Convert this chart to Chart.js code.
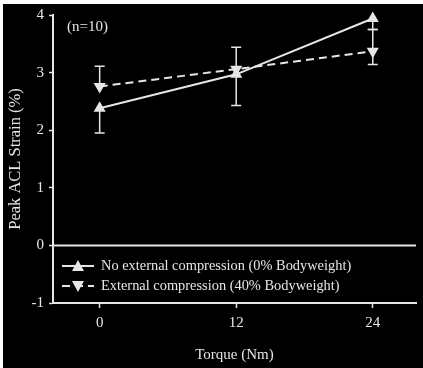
<!DOCTYPE html>
<html>
<head>
<meta charset="utf-8">
<script src="https://cdn.jsdelivr.net/npm/chart.js@4.4.1/dist/chart.umd.min.js"></script>
<style>
  html, body { margin: 0; padding: 0; background: #000; }
  #wrap { width: 423px; height: 368px; position: relative; }
</style>
</head>
<body>
<div id="wrap"><canvas id="chart" width="423" height="368"></canvas></div>
<script>
// torque levels (Nm)
const torques = [0, 12, 24];
// mean peak ACL strain (%)
const noCompression = [2.38, 2.97, 3.94];
const withCompression = [2.76, 3.06, 3.37];
// error bar ends (null = not drawn)
const noCompLow = [1.95, 2.43, 3.75];
const noCompHigh = [null, null, null];
const compLow = [null, null, 3.14];
const compHigh = [3.11, 3.44, 3.75];
const yTicks = [-1, 0, 1, 2, 3, 4];

const ink = '#e6e6e6';
const serif = "'Liberation Serif', 'Times New Roman', serif";

const toPoints = vals => vals.map((v, i) => ({ x: torques[i], y: v }));

// black page + white strip along top and left edges
const backdrop = {
    id: 'backdrop',
    beforeDraw(chart) {
        const ctx = chart.ctx;
        ctx.save();
        ctx.fillStyle = '#000';
        ctx.fillRect(0, 0, chart.width, chart.height);
        ctx.fillStyle = '#fff';
        ctx.fillRect(0, 0, chart.width, 4);
        ctx.fillRect(0, 0, 3, chart.height);
        ctx.restore();
    }
};

// zero reference line
const zeroLine = {
    id: 'zeroLine',
    beforeDatasetsDraw(chart) {
        const { ctx, chartArea, scales } = chart;
        const y = scales.y.getPixelForValue(0);
        ctx.save();
        ctx.strokeStyle = ink;
        ctx.lineWidth = 2;
        ctx.beginPath();
        ctx.moveTo(chartArea.left, y);
        ctx.lineTo(chartArea.right, y);
        ctx.stroke();
        ctx.restore();
    }
};

// vertical error bars with caps
const errorBars = {
    id: 'errorBars',
    beforeDatasetsDraw(chart) {
        const { ctx, scales } = chart;
        const sets = [[noCompression, noCompLow, noCompHigh], [withCompression, compLow, compHigh]];
        ctx.save();
        ctx.strokeStyle = ink;
        ctx.lineWidth = 1.5;
        sets.forEach(([mean, lo, hi]) => {
            torques.forEach((t, i) => {
                const x = scales.x.getPixelForValue(t);
                const ym = scales.y.getPixelForValue(mean[i]);
                [lo[i], hi[i]].forEach(end => {
                    if (end === null) return;
                    const ye = scales.y.getPixelForValue(end);
                    ctx.beginPath();
                    ctx.moveTo(x, ym);
                    ctx.lineTo(x, ye);
                    ctx.moveTo(x - 5, ye);
                    ctx.lineTo(x + 5, ye);
                    ctx.stroke();
                });
            });
        });
        ctx.restore();
    }
};

// legend and sample size note inside the plot
const notes = {
    id: 'notes',
    afterDraw(chart) {
        const { ctx, chartArea } = chart;
        ctx.save();
        ctx.fillStyle = ink;
        ctx.font = '15px ' + serif;
        ctx.textBaseline = 'middle';
        ctx.fillText('(n=10)', chartArea.left + 14, 27);

        ctx.font = '14.4px ' + serif;
        chart.data.datasets.forEach((ds, i) => {
            const y = 266 + i * 20;
            const x0 = chartArea.left + 9;
            const x1 = chartArea.left + 41;
            ctx.strokeStyle = ink;
            ctx.lineWidth = 2;
            ctx.setLineDash(ds.borderDash || []);
            ctx.beginPath();
            ctx.moveTo(x0, y);
            ctx.lineTo(x1, y);
            ctx.stroke();
            ctx.setLineDash([]);
            const cx = (x0 + x1) / 2;
            ctx.beginPath();
            if (ds.pointRotation === 180) {
                ctx.moveTo(cx - 6, y - 5);
                ctx.lineTo(cx + 6, y - 5);
                ctx.lineTo(cx, y + 6);
            } else {
                ctx.moveTo(cx - 6, y + 5);
                ctx.lineTo(cx + 6, y + 5);
                ctx.lineTo(cx, y - 6);
            }
            ctx.closePath();
            ctx.fill();
            ctx.fillText(ds.label, chartArea.left + 48, y);
        });
        ctx.restore();
    }
};

new Chart(document.getElementById('chart'), {
    type: 'line',
    data: {
        datasets: [
            {
                label: 'No external compression (0% Bodyweight)',
                data: toPoints(noCompression),
                borderColor: ink,
                backgroundColor: ink,
                borderWidth: 2,
                pointStyle: 'triangle',
                pointRadius: 7,
                pointRotation: 0,
                pointBorderWidth: 0,
                clip: false
            },
            {
                label: 'External compression (40% Bodyweight)',
                data: toPoints(withCompression),
                borderColor: ink,
                backgroundColor: ink,
                borderWidth: 2,
                borderDash: [8, 5],
                pointStyle: 'triangle',
                pointRadius: 7,
                pointRotation: 180,
                pointBorderWidth: 0,
                clip: false
            }
        ]
    },
    options: {
        responsive: false,
        animation: false,
        layout: { padding: { top: 15, right: 2, left: 0, bottom: 0 } },
        plugins: {
            legend: { display: false },
            tooltip: { enabled: false }
        },
        scales: {
            x: {
                type: 'linear',
                min: -4.1,
                max: 27.8,
                afterBuildTicks(scale) {
                    scale.ticks = torques.map(v => ({ value: v }));
                },
                afterFit(scale) { scale.height = 65; },
                border: { color: ink, width: 2 },
                grid: { drawOnChartArea: false, color: ink, tickLength: 5, tickWidth: 1.5 },
                ticks: { color: ink, font: { family: serif, size: 15 }, padding: 6 },
                title: {
                    display: true,
                    text: 'Torque (Nm)',
                    color: ink,
                    font: { family: serif, size: 15 },
                    padding: { top: 10 }
                }
            },
            y: {
                min: -1,
                max: 4,
                afterBuildTicks(scale) {
                    scale.ticks = yTicks.map(v => ({ value: v }));
                },
                afterFit(scale) { scale.width = 53; },
                border: { color: ink, width: 2 },
                grid: { drawOnChartArea: false, color: ink, tickLength: 4, tickWidth: 1.5 },
                ticks: { color: ink, font: { family: serif, size: 15 }, padding: 5 },
                title: {
                    display: true,
                    text: 'Peak ACL Strain (%)',
                    color: ink,
                    font: { family: serif, size: 16.5 },
                    padding: { top: 6 }
                }
            }
        }
    },
    plugins: [backdrop, zeroLine, errorBars, notes]
});
</script>
</body>
</html>
